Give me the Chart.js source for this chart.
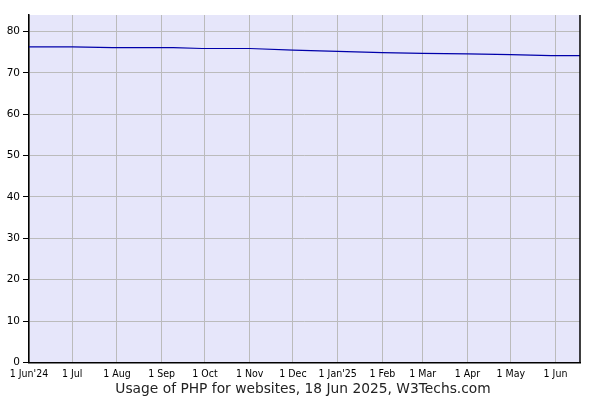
<!DOCTYPE html>
<html>
<head>
<meta charset="utf-8">
<script src="https://cdn.jsdelivr.net/npm/chart.js@4.4.1/dist/chart.umd.min.js"></script>
<style>
  html, body { margin: 0; padding: 0; background: #fff; }
  #wrap { width: 600px; height: 400px; }
</style>
</head>
<body>
<div id="wrap"><canvas id="chart"></canvas></div>
<script>
'use strict';

// days counted from 1 Jun 2024, share of websites using PHP (%)
var days = [0, 30, 58, 100, 120, 153, 183, 214, 245, 273, 304, 334, 362, 382];
var phpShare = [76.3, 76.3, 76.1, 76.1, 75.9, 75.9, 75.5, 75.2, 74.9, 74.7, 74.6, 74.4, 74.2, 74.2];

// x axis tick positions (days from 1 Jun 2024) and their labels
var monthDays = [0, 30, 61, 92, 122, 153, 183, 214, 245, 273, 304, 334, 365];
var monthLabels = ['1 Jun\'24', '1 Jul', '1 Aug', '1 Sep', '1 Oct', '1 Nov', '1 Dec',
    '1 Jan\'25', '1 Feb', '1 Mar', '1 Apr', '1 May', '1 Jun'];
var yTicks = [0, 10, 20, 30, 40, 50, 60, 70, 80];

var titleText = 'Usage of PHP for websites, 18 Jun 2025, W3Techs.com';

var points = days.map(function(d, i) { return { x: d, y: phpShare[i] }; });

var plotFrame = {
    id: 'plotFrame',
    beforeDraw: function(chart) {
        var a = chart.chartArea, ctx = chart.ctx;
        ctx.save();
        ctx.fillStyle = '#e6e6fa';
        ctx.fillRect(a.left, a.top, a.right - a.left, a.bottom - a.top);
        ctx.restore();
    },
    afterDraw: function(chart) {
        var a = chart.chartArea, ctx = chart.ctx;
        ctx.save();
        ctx.strokeStyle = '#000';
        ctx.lineWidth = 1.5;
        ctx.beginPath();
        ctx.moveTo(a.right, a.top);
        ctx.lineTo(a.right, a.bottom);
        ctx.stroke();
        ctx.restore();
    }
};

new Chart(document.getElementById('chart').getContext('2d'), {
    type: 'line',
    data: {
        datasets: [{
            data: points,
            borderColor: '#0000aa',
            borderWidth: 1.2,
            pointRadius: 0,
            fill: false,
            tension: 0
        }]
    },
    options: {
        responsive: true,
        maintainAspectRatio: false,
        animation: false,
        layout: { padding: { top: 15, right: 0, left: 6, bottom: 0 } },
        plugins: {
            legend: { display: false },
            tooltip: { enabled: false },
            title: {
                display: true,
                position: 'bottom',
                text: titleText,
                color: '#222',
                font: { family: 'DejaVu Sans', size: 13.8, weight: 'normal', lineHeight: 1.2 },
                padding: { top: 1, bottom: 2 }
            }
        },
        scales: {
            x: {
                type: 'linear',
                min: 0,
                max: 382,
                afterBuildTicks: function(axis) {
                    axis.ticks = monthDays.map(function(v) { return { value: v }; });
                },
                afterFit: function(axis) { axis.height = 18; },
                ticks: {
                    autoSkip: false,
                    maxRotation: 0,
                    padding: 4,
                    color: '#000',
                    font: { family: 'DejaVu Sans Condensed', size: 10.5 },
                    callback: function(value) {
                        var i = monthDays.indexOf(value);
                        return i >= 0 ? monthLabels[i] : '';
                    }
                },
                grid: { color: '#bbbbbb', lineWidth: 1, tickLength: 2, tickColor: 'rgba(0,0,0,0)' },
                border: { color: '#000', width: 1.5 }
            },
            y: {
                min: 0,
                max: 84,
                afterBuildTicks: function(axis) {
                    axis.ticks = yTicks.map(function(v) { return { value: v }; });
                },
                afterFit: function(axis) { axis.width = 23; },
                ticks: {
                    padding: 3,
                    color: '#000',
                    font: { family: 'DejaVu Sans', size: 10.5 }
                },
                grid: { color: '#bbbbbb', lineWidth: 1, tickLength: 6, tickColor: '#000' },
                border: { color: '#000', width: 1.5 }
            },
            // empty right-hand axis: only reserves the margin right of the plot
            y2: {
                position: 'right',
                min: 0,
                max: 84,
                afterFit: function(axis) { axis.width = 20; },
                ticks: { display: false },
                grid: { display: false, drawOnChartArea: false },
                border: { display: false }
            }
        }
    },
    plugins: [plotFrame]
});
</script>
</body>
</html>
